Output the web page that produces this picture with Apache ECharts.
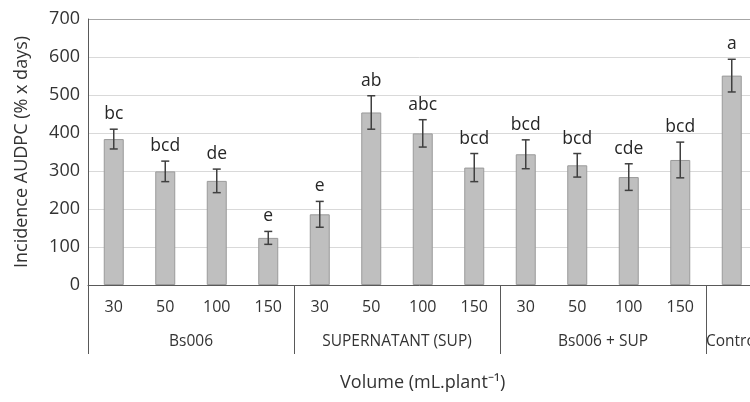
<!DOCTYPE html>
<html><head><meta charset="utf-8">
<script src="https://cdn.jsdelivr.net/npm/echarts@6/dist/echarts.min.js"></script>
<style>html,body{margin:0;padding:0;background:#fff}#c{width:750px;height:402px}</style>
</head><body><div id="c"></div>
<script>
const tickLabels = ['30','50','100','150','30','50','100','150','30','50','100','150',''];
const groupNames = ['Bs006','SUPERNATANT (SUP)','Bs006 + SUP','Control'];
const groupSizes = [4,4,4,1];
const values = [384,299,274,124,186,454,399,309,344,315,284,329,551];
const errors = [26,27,31,17,34,44,36,37,38,31,35,47,43];
const letters = ['bc','bcd','de','e','e','ab','abc','bcd','bcd','bcd','cde','bcd','a'];
const yTicks = {min:0, max:700, interval:100};

// half-step positions for group labels (boundaryGap false axis)
const halfSlots = [];
for (let i = 0; i <= tickLabels.length*2; i++) halfSlots.push('');
const boundaries = [];
let start = 0;
groupSizes.forEach((n,g)=>{
  boundaries.push(start);
  if (n > 1) {
    halfSlots[Math.round((start + n/2)*2)] = groupNames[g];
  } else {
    // single-category group: label starts at its left boundary (wider than the band)
    halfSlots[start*2] = {value: groupNames[g], textStyle:{align:'left'}};
  }
  start += n;
});

const font = 'Open Sans';
const txt = '#333333';
const splitColors = ['#d9d9d9','#d9d9d9','#d9d9d9','#d9d9d9','#d9d9d9','#d9d9d9','#d9d9d9','#a6a6a6'];
const chart = echarts.init(document.getElementById('c'));
chart.setOption({
  animation:false,
  grid:{left:88, top:19, height:266, width:669.5, outerBoundsMode:'none', containLabel:false},
  xAxis:[{
    type:'category', data:tickLabels, boundaryGap:true,
    axisLine:{lineStyle:{color:'#595959', width:1}},
    axisTick:{show:true, length:69, interval:(i)=>boundaries.indexOf(i)>=0, lineStyle:{color:'#595959'}},
    axisLabel:{interval:0, margin:14, fontSize:16, fontFamily:font, color:txt},
    name:'Volume (mL.plant⁻¹)', nameLocation:'middle', nameGap:89,
    nameTextStyle:{fontSize:18, fontFamily:font, color:txt}
  },{
    type:'category', data:halfSlots, boundaryGap:false, position:'bottom',
    axisLine:{show:false}, axisTick:{show:false},
    axisLabel:{interval:0, margin:49, fontSize:15.5, fontFamily:font, color:txt}
  }],
  yAxis:{
    type:'value', min:yTicks.min, max:yTicks.max, interval:yTicks.interval,
    axisLine:{show:true, lineStyle:{color:'#595959'}}, axisTick:{show:false},
    splitLine:{lineStyle:{color:splitColors}},
    axisLabel:{fontSize:18, fontFamily:font, color:txt, margin:8},
    name:'Incidence AUDPC (% x days)', nameLocation:'middle', nameGap:57,
    nameTextStyle:{fontSize:18, fontFamily:font, color:txt}
  },
  series:[{
    type:'bar', data:values, barWidth:20,
    itemStyle:{color:'#bfbfbf', borderColor:'#9a9a9a', borderWidth:1}
  },{
    type:'custom', z:5,
    data: values.map((v,i)=>[i, v, errors[i]]),
    renderItem:(params, api)=>{
      const x = api.value(0), v = api.value(1), e = api.value(2);
      const t = api.coord([x, v+e]), b = api.coord([x, v-e]);
      const cx = t[0], c = 4;
      const ls = {stroke:'#404040', lineWidth:1.5};
      return {type:'group', children:[
        {type:'line', shape:{x1:cx, y1:t[1], x2:cx, y2:b[1]}, style:ls},
        {type:'line', shape:{x1:cx-c, y1:t[1], x2:cx+c, y2:t[1]}, style:ls},
        {type:'line', shape:{x1:cx-c, y1:b[1], x2:cx+c, y2:b[1]}, style:ls},
        {type:'text', x:cx, y:t[1]-6, style:{text:letters[params.dataIndex], fill:'#262626', font:'17.5px "'+font+'"', textAlign:'center', textVerticalAlign:'bottom'}}
      ]};
    }
  }]
});
</script></body></html>
